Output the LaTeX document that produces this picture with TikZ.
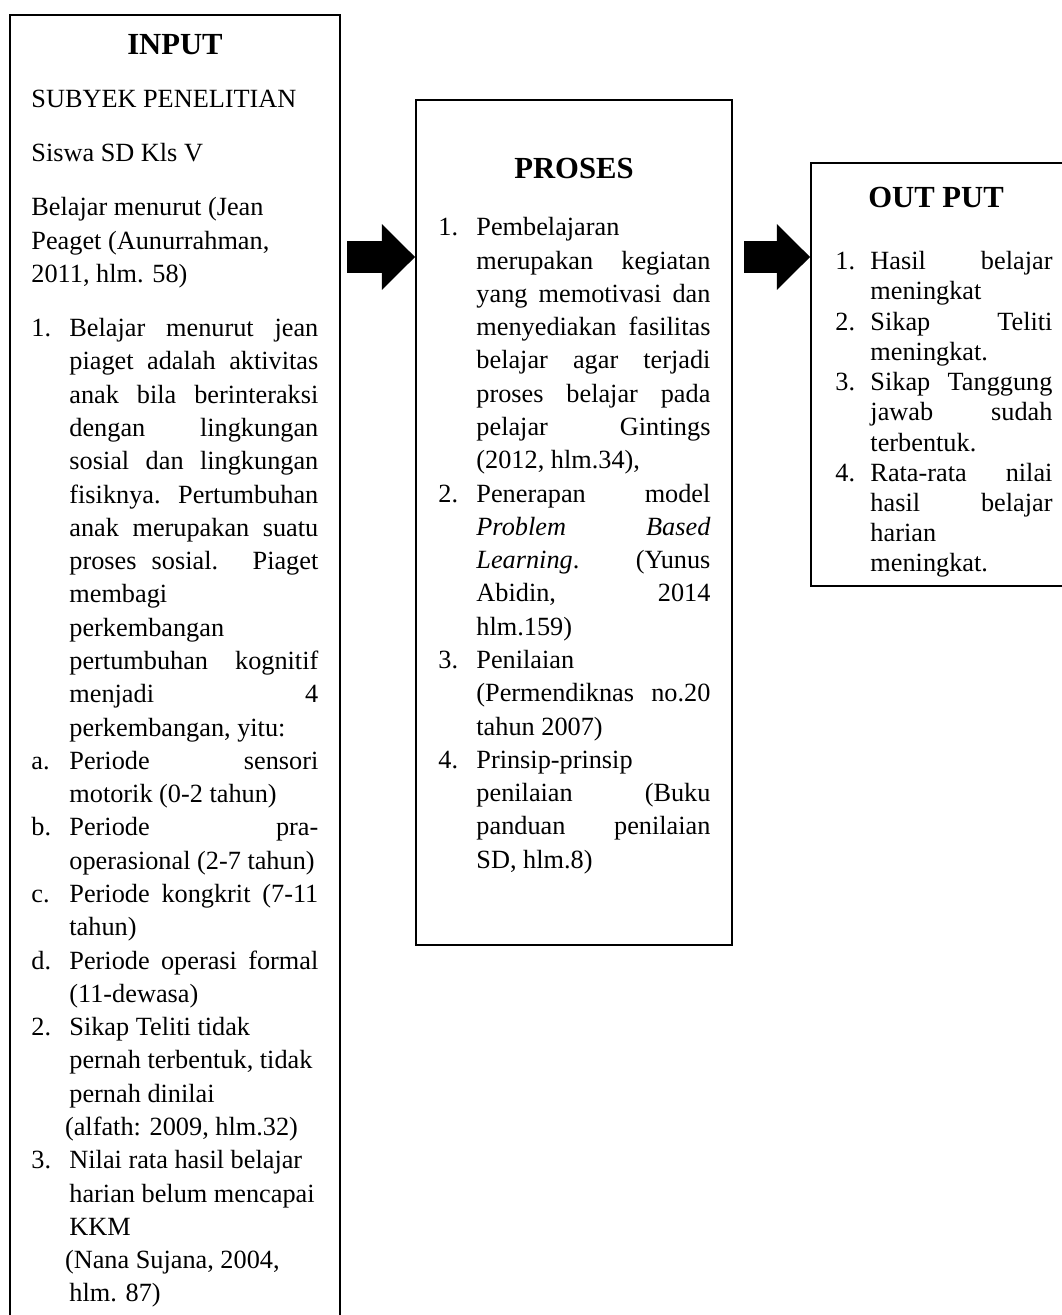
\documentclass[tikz,border=0pt]{standalone}
\usepackage{fontspec}
\setmainfont{Liberation Serif}
\usetikzlibrary{arrows.meta, fit, positioning}

\newlength{\hangw}
\newcommand{\itemrow}[2]{\par\noindent\hangindent=\hangw\hangafter=1\makebox[\hangw][l]{#1}#2}

\begin{document}
\begin{tikzpicture}[x=0.4566pt, y=0.4566pt,
  frame/.style={draw, line width=0.9pt, inner sep=0pt},
  heading/.style={font=\fontsize{14}{16}\selectfont\bfseries, inner sep=0pt},
  bodytext/.style={anchor=north west, inner sep=0pt, align=justify,
    font=\fontsize{12}{15.2}\selectfont,
    execute at begin node={\setlength{\parindent}{0pt}\setlength{\parskip}{0pt}\lineskiplimit=-20pt\hyphenpenalty=10000\exhyphenpenalty=10000}},
  blockarr/.style={line width=14.6pt, -{Triangle[length=15.1pt, width=30.1pt, line width=0pt]}}]
\useasboundingbox (0,0) rectangle (1061,-1315);

% boxes
\node[frame, fit={(10,-15) (340,-1340)}] (inbox) {};
\node[frame, fit={(416,-100) (732,-945)}] (proses) {};
\node[frame, fit={(811,-163) (1064,-586)}] (outbox) {};

% titles
\node[heading] (intitle) at (175,-45) {INPUT};
\node[heading] (protitle) at (574,-168) {PROSES};
\node[heading] (outtitle) at (936,-197) {OUT PUT};

% input
\node[bodytext, text width=131pt] (inbody) at (31,-84) {\setlength{\hangw}{17.35pt}\strut
SUBYEK PENELITIAN\par\vspace{9.5pt}
Siswa SD Kls V\par\vspace{9.5pt}
Belajar menurut (Jean\newline Peaget (Aunurrahman,\newline 2011, hlm. 58)\par\vspace{9.5pt}
\itemrow{1.}{Belajar menurut jean\linebreak piaget adalah aktivitas\linebreak anak bila berinteraksi\linebreak dengan lingkungan\linebreak sosial dan lingkungan\linebreak fisiknya. Pertumbuhan\linebreak anak merupakan suatu\linebreak proses sosial. Piaget\linebreak membagi\linebreak perkembangan\linebreak pertumbuhan kognitif\linebreak menjadi 4\linebreak perkembangan, yitu:}
\itemrow{a.}{Periode sensori\linebreak motorik (0-2 tahun)}
\itemrow{b.}{Periode pra-\linebreak operasional (2-7 tahun)}
\itemrow{c.}{Periode kongkrit (7-11\linebreak tahun)}
\itemrow{d.}{Periode operasi formal\linebreak (11-dewasa)}
\itemrow{2.}{Sikap Teliti tidak\newline pernah terbentuk, tidak\newline pernah dinilai\newline\hspace*{-2pt}(alfath: 2009, hlm.32)}
\itemrow{3.}{Nilai rata hasil belajar\newline harian belum mencapai\newline KKM\newline\hspace*{-2pt}(Nana Sujana, 2004,\newline hlm. 87)}\par};

% proses
\node[bodytext, text width=124.2pt] (probody) at (438,-202) {\setlength{\hangw}{17.35pt}%
\itemrow{1.}{\strut Pembelajaran\linebreak merupakan kegiatan\linebreak yang memotivasi dan\linebreak menyediakan fasilitas\linebreak belajar agar terjadi\linebreak proses belajar pada\linebreak pelajar Gintings\linebreak (2012, hlm.34),}
\itemrow{2.}{Penerapan model\linebreak \textit{Problem Based}\linebreak \textit{Learning}. (Yunus\linebreak Abidin, 2014\linebreak hlm.159)}
\itemrow{3.}{Penilaian\linebreak (Permendiknas no.20\linebreak tahun 2007)}
\itemrow{4.}{Prinsip-prinsip\linebreak penilaian (Buku\linebreak panduan penilaian\linebreak SD, hlm.8)}\par};

% output
\node[bodytext, text width=99.1pt, font=\fontsize{12}{13.8}\selectfont] (outbody) at (835,-239) {\setlength{\hangw}{16pt}%
\itemrow{1.}{\strut Hasil belajar\linebreak meningkat}
\itemrow{2.}{Sikap Teliti\linebreak meningkat.}
\itemrow{3.}{Sikap Tanggung\linebreak jawab sudah\linebreak terbentuk.}
\itemrow{4.}{Rata-rata nilai\linebreak hasil belajar\linebreak harian\linebreak meningkat.}\par};

% arrows
\coordinate (arrAstart) at (347,-257);
\coordinate (arrBstart) at (744,-257);
\draw[blockarr] (arrAstart) -- (arrAstart -| proses.west);
\draw[blockarr] (arrBstart) -- (arrBstart -| outbox.west);
\end{tikzpicture}
\end{document}
